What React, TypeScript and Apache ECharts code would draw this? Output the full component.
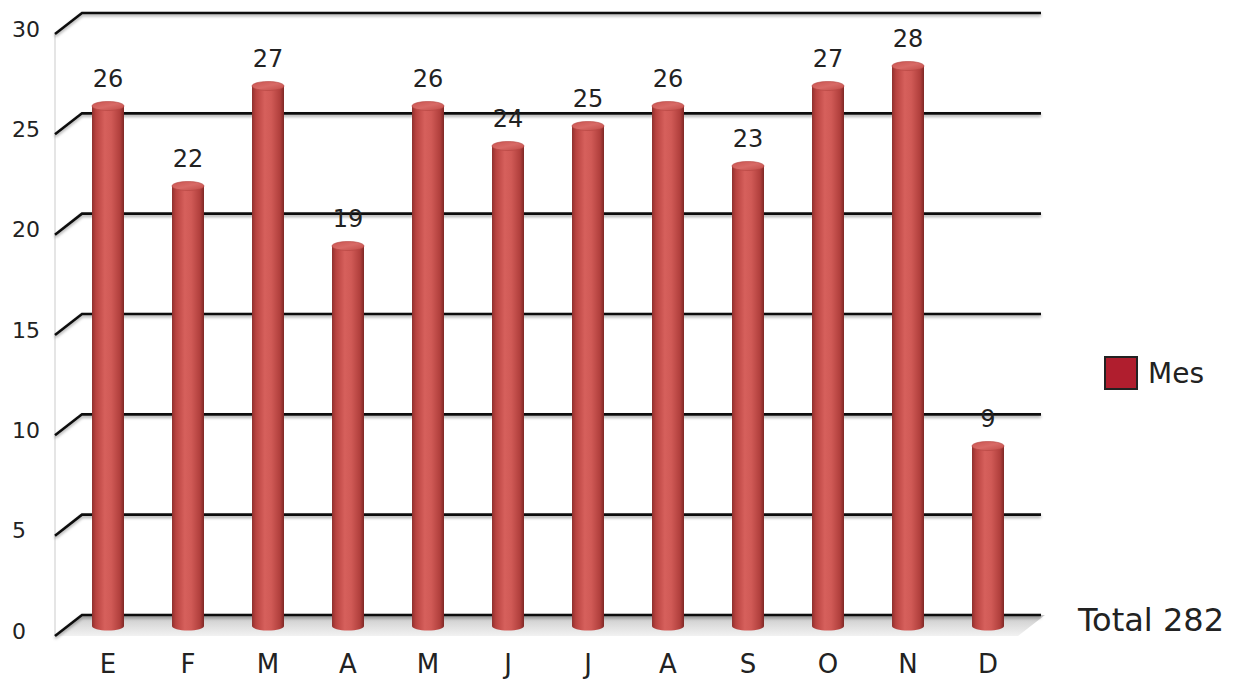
import React, { useEffect, useRef } from "react";
import * as echarts from "echarts";

const months = ["E", "F", "M", "A", "M", "J", "J", "A", "S", "O", "N", "D"];
const values = [26, 22, 27, 19, 26, 24, 25, 26, 23, 27, 28, 9];
const yTicks = [0, 5, 10, 15, 20, 25, 30];
const seriesName = "Mes";
const totalLabel = "Total";

const FONT = "DejaVu Sans, sans-serif";
const DX = -27;
const DY = 21;

export default function App() {
  const ref = useRef<HTMLDivElement>(null);
  useEffect(() => {
    if (!ref.current) return;
    const chart = echarts.init(ref.current, undefined, { renderer: "svg" });
    const total = values.reduce((a, b) => a + b, 0);

    const barGrad = new echarts.graphic.LinearGradient(0, 0, 1, 0, [
      { offset: 0, color: "#8f302e" },
      { offset: 0.12, color: "#b8423f" },
      { offset: 0.4, color: "#d6605c" },
      { offset: 0.6, color: "#d05a56" },
      { offset: 0.88, color: "#b03f3c" },
      { offset: 1, color: "#7e2826" },
    ]);
    const capGrad = new echarts.graphic.LinearGradient(0, 0, 1, 1, [
      { offset: 0, color: "#c9534f" },
      { offset: 0.5, color: "#d86a66" },
      { offset: 1, color: "#c04a46" },
    ]);
    const floorGrad = new echarts.graphic.LinearGradient(0, 0, 0, 1, [
      { offset: 0, color: "#c8c8c8" },
      { offset: 0.6, color: "#e2e2e2" },
      { offset: 1, color: "#f2f2f2" },
    ]);

    const option: any = {
      animation: false,
      backgroundColor: "#ffffff",
      textStyle: { fontFamily: FONT },
      grid: [
        { left: 82, right: 207, top: 13, height: 602, outerBoundsMode: "none", containLabel: false },
        { left: 68, width: 960, top: 26, height: 600, outerBoundsMode: "none", containLabel: false },
        { left: 68, width: 960, top: 29, height: 602, outerBoundsMode: "none", containLabel: false },
      ],
      xAxis: [
        { gridIndex: 0, type: "value", min: 0, max: 1, show: false },
        {
          gridIndex: 1,
          type: "category",
          data: months,
          axisLine: { show: false },
          axisTick: { show: false },
          axisLabel: { fontSize: 26, color: "#222", margin: 25, fontFamily: FONT },
        },
        { gridIndex: 2, type: "value", min: 0, max: 1, show: false },
      ],
      yAxis: [
        { gridIndex: 0, type: "value", min: 0, max: 30, interval: 5, show: false },
        { gridIndex: 1, type: "value", min: 0, max: 30, interval: 5, show: false },
        {
          gridIndex: 2,
          type: "value",
          min: 0,
          max: 30,
          interval: 5,
          axisLine: { show: false },
          axisTick: { show: false },
          splitLine: { show: false },
          axisLabel: { align: "left", margin: 56, fontSize: 22, color: "#222", fontFamily: FONT },
        },
      ],
      legend: {
        data: [seriesName],
        left: 1104,
        top: 356,
        padding: 0,
        itemWidth: 32,
        itemHeight: 32,
        icon: "rect",
        textStyle: { fontSize: 28, color: "#222", fontFamily: FONT, padding: [0, 0, 0, 6] },
      },
      graphic: [
        {
          type: "text",
          left: 1078,
          top: 604,
          style: { text: `${totalLabel} ${total}`, fontSize: 32, fill: "#222", fontFamily: FONT },
        },
      ],
      series: [
        {
          type: "custom",
          name: "floor",
          xAxisIndex: 0,
          yAxisIndex: 0,
          clip: false,
          z: 1,
          silent: true,
          data: [[0]],
          renderItem: (params: any, api: any) => {
            const p0 = api.coord([0, 0]);
            const p1 = api.coord([1, 0]);
            const top = api.coord([0, 30]);
            return {
              type: "group",
              children: [
                {
                  type: "polygon",
                  shape: {
                    points: [
                      [p0[0] + DX, p0[1] + DY],
                      [p1[0] + DX + 4, p1[1] + DY],
                      [p1[0] + 4, p1[1]],
                      [p0[0], p0[1]],
                    ],
                  },
                  style: { fill: floorGrad },
                },
                {
                  type: "line",
                  shape: { x1: p0[0] + DX, y1: top[1] + DY, x2: p0[0] + DX, y2: p0[1] + DY },
                  style: { stroke: "#dcdcdc", lineWidth: 1.5 },
                },
              ],
            };
          },
        },
        {
          type: "custom",
          name: "gridlines",
          xAxisIndex: 0,
          yAxisIndex: 0,
          clip: false,
          z: 2,
          silent: true,
          data: yTicks.map((v) => [v]),
          renderItem: (params: any, api: any) => {
            const v = api.value(0);
            const p0 = api.coord([0, v]);
            const p1 = api.coord([1, v]);
            return {
              type: "polyline",
              shape: {
                points: [
                  [p0[0] + DX, p0[1] + DY],
                  [p0[0], p0[1]],
                  [p1[0], p1[1]],
                ],
              },
              style: {
                stroke: "#111",
                lineWidth: 2.6,
                fill: "none",
                shadowBlur: 3,
                shadowColor: "rgba(0,0,0,0.35)",
                shadowOffsetY: 2,
              },
            };
          },
        },
        {
          type: "custom",
          name: seriesName,
          xAxisIndex: 1,
          yAxisIndex: 1,
          clip: false,
          z: 3,
          itemStyle: { color: "#b01e2e", borderColor: "#222", borderWidth: 2 },
          data: values.map((v, i) => [i, v]),
          renderItem: (params: any, api: any) => {
            const i = api.value(0);
            const v = api.value(1);
            const top = api.coord([i, v]);
            const base = api.coord([i, 0]);
            const w = 32;
            const rx = w / 2;
            const ry = 4.5;
            const cx = top[0];
            return {
              type: "group",
              children: [
                {
                  type: "ellipse",
                  shape: { cx, cy: base[1], rx, ry },
                  style: { fill: barGrad },
                },
                {
                  type: "rect",
                  shape: { x: cx - rx, y: top[1], width: w, height: base[1] - top[1] },
                  style: { fill: barGrad },
                },
                {
                  type: "ellipse",
                  shape: { cx, cy: top[1], rx, ry },
                  style: { fill: capGrad, stroke: "#b3433f", lineWidth: 0.6 },
                },
                {
                  type: "text",
                  style: {
                    text: String(v),
                    x: cx,
                    y: top[1] - 27,
                    align: "center",
                    verticalAlign: "middle",
                    fontSize: 24,
                    fill: "#222",
                    fontFamily: FONT,
                  },
                },
              ],
            };
          },
        },
      ],
    };
    chart.setOption(option);
    return () => chart.dispose();
  }, []);
  return (
    <div
      ref={ref}
      style={{ position: "fixed", left: 0, top: 0, width: 1248, height: 679 }}
    />
  );
}
